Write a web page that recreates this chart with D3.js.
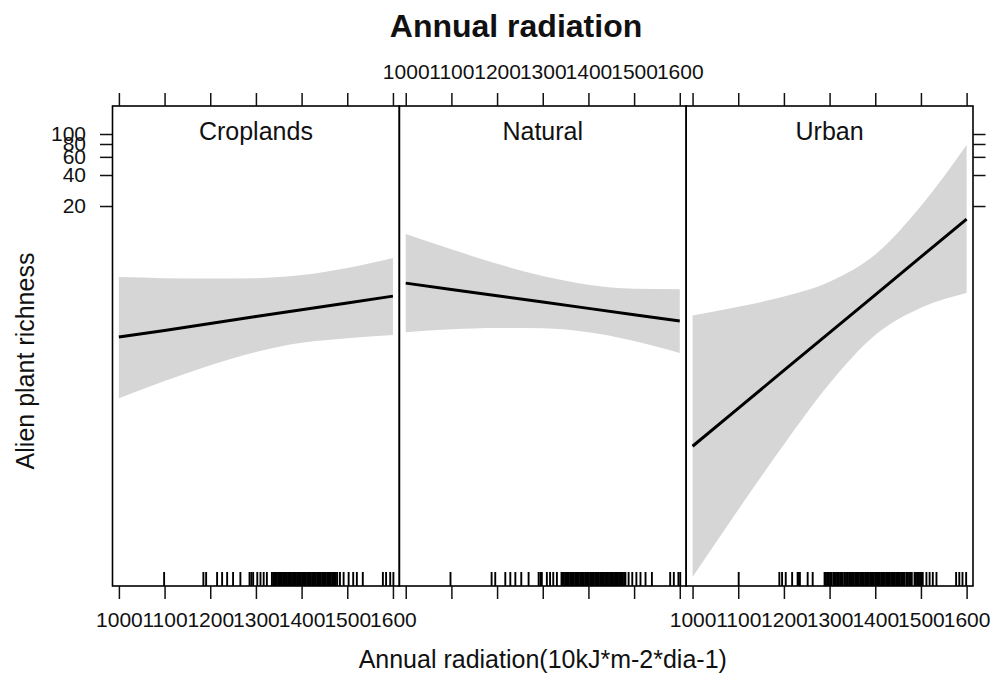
<!DOCTYPE html>
<html lang="en">
<head>
  <meta charset="UTF-8">
  <title>Annual radiation</title>
  <script src="https://d3js.org/d3.v7.min.js"></script>
  <style>
    body { margin: 0; background: #fff; }
    text { font-family: "Liberation Sans", Arial, sans-serif; fill: #111; }
    .tick line { stroke: #111; stroke-width: 1.5px; }
    .tick text { font-size: 21px; }
  </style>
</head>
<body>
  <svg id="chart" width="993" height="677"></svg>

  <script>
    // effect values at these radiation levels
    const radiation = [1000, 1100, 1200, 1300, 1400, 1500, 1600];
    const landUse = ["Croplands", "Natural", "Urban"];

    const fitCroplands   = [1.07, 1.24, 1.45, 1.69, 1.97, 2.29, 2.67];
    const lowerCroplands = [0.273, 0.400, 0.569, 0.765, 0.939, 1.04, 1.12];
    const upperCroplands = [4.09, 3.99, 3.95, 3.99, 4.27, 5.00, 6.25];

    const fitNatural   = [3.57, 3.10, 2.69, 2.34, 2.03, 1.76, 1.53];
    const lowerNatural = [1.19, 1.27, 1.31, 1.30, 1.19, 0.98, 0.75];
    const upperNatural = [10.69, 7.59, 5.50, 4.19, 3.45, 3.15, 3.12];

    const fitUrban   = [0.0932, 0.217, 0.507, 1.18, 2.75, 6.42, 14.95];
    const lowerUrban = [0.00502, 0.0225, 0.0968, 0.378, 1.12, 2.06, 2.86];
    const upperUrban = [1.73, 2.10, 2.65, 3.69, 6.77, 20.04, 78.3];

    // observed radiation values (rug)
    const rugCroplands = [1099, 1185, 1191, 1215, 1226, 1237, 1250, 1266, 1286, 1290, 1294, 1303, 1310, 1317, 1324, 1335,
      1338, 1341, 1343, 1346, 1349, 1351, 1354, 1357, 1360, 1362, 1365, 1368, 1371, 1373, 1376, 1379, 1382, 1384, 1387,
      1390, 1393, 1395, 1398, 1401, 1404, 1406, 1409, 1412, 1415, 1417, 1420, 1423, 1426, 1428, 1431, 1434, 1437, 1439,
      1442, 1445, 1448, 1450, 1453, 1456, 1459, 1461, 1464, 1467, 1470, 1472, 1475, 1478,
      1484, 1492, 1503, 1513, 1521, 1534, 1578, 1585, 1594, 1601];
    const rugNatural = [1098, 1188, 1196, 1218, 1229, 1240, 1253, 1269, 1291, 1295, 1298, 1309, 1316, 1323, 1331,
      1341, 1344, 1346, 1349, 1352, 1354, 1357, 1360, 1363, 1365, 1368, 1371, 1374, 1376, 1379, 1382, 1385, 1387, 1390,
      1393, 1396, 1398, 1401, 1404, 1407, 1409, 1412, 1415, 1418, 1420, 1423, 1426, 1429, 1431, 1434, 1437, 1440, 1442,
      1445, 1448, 1451, 1453, 1456, 1459, 1462, 1464, 1467, 1470, 1473, 1475, 1478, 1481,
      1488, 1496, 1505, 1514, 1525, 1539, 1579, 1587, 1597, 1601];
    const rugUrban = [1101, 1190, 1196, 1204, 1218, 1230, 1233, 1235, 1252, 1263,
      1289, 1292, 1295, 1298, 1301, 1304, 1308, 1311, 1314, 1317, 1320, 1323, 1326, 1329, 1333, 1336,
      1340, 1343, 1345, 1348, 1351, 1353, 1356, 1359, 1362, 1364, 1367, 1370, 1372, 1375, 1378, 1381, 1383, 1386,
      1389, 1391, 1394, 1397, 1400, 1402, 1405, 1408, 1410, 1413, 1416, 1419, 1421, 1424, 1427, 1429, 1432, 1435,
      1438, 1440, 1443, 1446, 1448, 1451, 1454, 1457, 1459, 1462, 1464,
      1468, 1471, 1474, 1477, 1480, 1486, 1489, 1492, 1495, 1498, 1501, 1504,
      1512, 1519, 1526, 1534, 1577, 1584, 1591, 1599];

    const xTicks = [1000, 1100, 1200, 1300, 1400, 1500, 1600];
    const yTicks = [20, 40, 60, 80, 100];

    const panels = [
      { name: landUse[0], fit: fitCroplands, lower: lowerCroplands, upper: upperCroplands, rug: rugCroplands },
      { name: landUse[1], fit: fitNatural, lower: lowerNatural, upper: upperNatural, rug: rugNatural },
      { name: landUse[2], fit: fitUrban, lower: lowerUrban, upper: upperUrban, rug: rugUrban }
    ];

    const svg = d3.select("#chart");
    const panelLeft = 112.5, panelRight = 973, panelTop = 106, panelBottom = 586;
    const pw = (panelRight - panelLeft) / panels.length;

    const y = d3.scaleLog().domain([0.0041, 187]).range([panelBottom, panelTop]);

    panels.forEach(function(p, i) {
      const x = d3.scaleLinear()
                  .domain([986, 1614])
                  .range([panelLeft + i * pw, panelLeft + (i + 1) * pw]);
      const g = svg.append("g");
      const rows = radiation.map((r, k) => ({ r: r, fit: p.fit[k], lo: p.lower[k], hi: p.upper[k] }));

      // confidence band
      g.append("path")
       .datum(rows)
       .attr("fill", "#d6d6d6")
       .attr("d", d3.area()
                    .curve(d3.curveMonotoneX)
                    .x(d => x(d.r))
                    .y0(d => y(d.lo))
                    .y1(d => y(d.hi)));

      // fitted line
      g.append("path")
       .datum(rows)
       .attr("fill", "none")
       .attr("stroke", "#000")
       .attr("stroke-width", 3)
       .attr("d", d3.line().x(d => x(d.r)).y(d => y(d.fit)));

      // rug
      g.selectAll(".rug")
       .data(p.rug)
       .enter().append("line")
       .attr("x1", d => x(d)).attr("x2", d => x(d))
       .attr("y1", panelBottom).attr("y2", panelBottom - 14)
       .attr("stroke", "#000")
       .attr("stroke-width", 1.9);

      // panel label
      g.append("text")
       .attr("x", panelLeft + (i + 0.5) * pw)
       .attr("y", 140)
       .attr("text-anchor", "middle")
       .style("font-size", "25px")
       .text(p.name);

      // axes: labels alternate between bottom and top
      const fmt = d3.format("d");
      const topAxis = svg.append("g")
         .attr("transform", "translate(0," + panelTop + ")")
         .call(d3.axisTop(x).tickValues(xTicks).tickSize(13).tickPadding(14)
                 .tickFormat(i === 1 ? fmt : () => ""));
      const bottomAxis = svg.append("g")
         .attr("transform", "translate(0," + panelBottom + ")")
         .call(d3.axisBottom(x).tickValues(xTicks).tickSize(13).tickPadding(13)
                 .tickFormat(i !== 1 ? fmt : () => ""));
      topAxis.select(".domain").remove();
      bottomAxis.select(".domain").remove();

      // panel border
      g.append("rect")
       .attr("x", panelLeft + i * pw).attr("y", panelTop)
       .attr("width", pw).attr("height", panelBottom - panelTop)
       .attr("fill", "none")
       .attr("stroke", "#000")
       .attr("stroke-width", 1.6);
    });

    const yLeft = svg.append("g")
       .attr("transform", "translate(" + panelLeft + ",0)")
       .call(d3.axisLeft(y).tickValues(yTicks).tickSize(12.5).tickPadding(14).tickFormat(d3.format("d")));
    yLeft.select(".domain").remove();
    const yRight = svg.append("g")
       .attr("transform", "translate(" + panelRight + ",0)")
       .call(d3.axisRight(y).tickValues(yTicks).tickSize(12.5).tickFormat(() => ""));
    yRight.select(".domain").remove();
    svg.selectAll(".tick text").attr("fill", "#111").style("font-family", "'Liberation Sans', Arial, sans-serif");

    // titles
    svg.append("text")
       .attr("x", 516).attr("y", 37)
       .attr("text-anchor", "middle")
       .style("font-size", "32px")
       .style("font-weight", "bold")
       .text("Annual radiation");

    svg.append("text")
       .attr("x", (panelLeft + panelRight) / 2).attr("y", 668)
       .attr("text-anchor", "middle")
       .style("font-size", "25px")
       .text("Annual radiation(10kJ*m-2*dia-1)");

    svg.append("text")
       .attr("transform", "translate(34,361) rotate(-90)")
       .attr("text-anchor", "middle")
       .style("font-size", "25px")
       .text("Alien plant richness");
  </script>
</body>
</html>
